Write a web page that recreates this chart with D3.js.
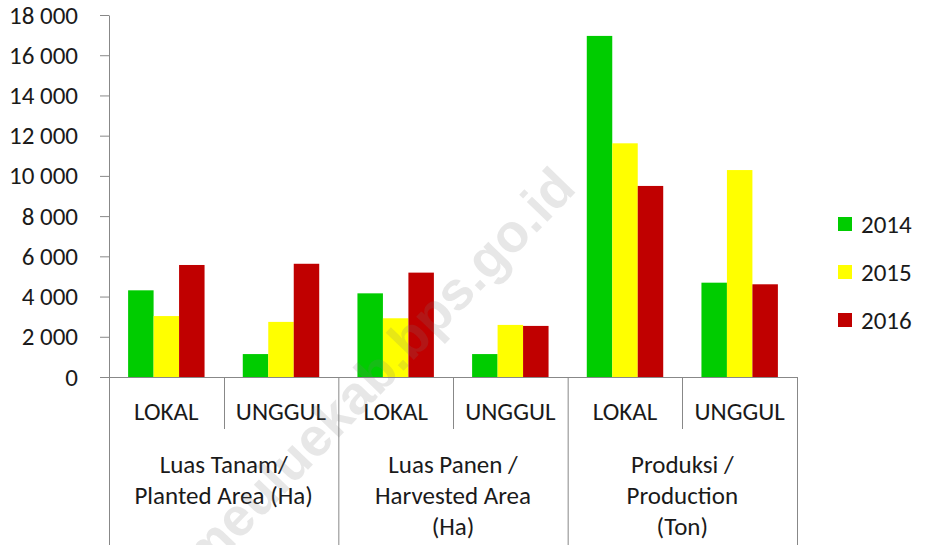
<!DOCTYPE html>
<html>
<head>
<meta charset="utf-8">
<script src="https://cdn.jsdelivr.net/npm/d3@7/dist/d3.min.js"></script>
<style>
  html, body { margin: 0; padding: 0; background: #fff; }
  svg { display: block; }
  text { font-family: Carlito, Calibri, Lato, sans-serif; fill: #1a1a1a; }
</style>
</head>
<body>
<svg id="chart" width="925" height="545"></svg>
<script>
const groupLabels = [
  ["Luas Tanam/", "Planted Area (Ha)"],
  ["Luas Panen /", "Harvested Area", "(Ha)"],
  ["Produksi /", "Production", "(Ton)"]
];
const subCategories = ["LOKAL", "UNGGUL"];
const years = ["2014", "2015", "2016"];
const values2014 = [4310, 1140, 4160, 1140, 16960, 4690];
const values2015 = [3030, 2740, 2920, 2590, 11620, 10290];
const values2016 = [5570, 5630, 5190, 2540, 9500, 4610];
const yTicks = [0, 2000, 4000, 6000, 8000, 10000, 12000, 14000, 16000, 18000];
const colors = ["#00CC00", "#FFFF00", "#C00000"];
const watermark = "simeuluekab.bps.go.id";

const series = [values2014, values2015, values2016];
const cats = [];
groupLabels.forEach((g, gi) => subCategories.forEach((s, si) => cats.push({ g: gi, s: s, i: gi * 2 + si })));

const svg = d3.select("#chart");
const axisColor = "#888888";
const fs = 25;
const x0 = 109, x1 = 797, yBase = 377, yTop = 15;

const x = d3.scaleBand().domain(cats.map(d => d.i)).range([x0, x1]).padding(0);
const xi = d3.scaleBand().domain(years).range([0, x.bandwidth()]).paddingInner(0).paddingOuter(0.75);
const y = d3.scaleLinear().domain([0, 18000]).range([yBase, yTop]);
const gx = d3.scaleBand().domain([0, 1, 2]).range([x0, x1]).padding(0);

// bars
const barG = svg.append("g");
cats.forEach(c => {
  years.forEach((yr, k) => {
    const v = series[k][c.i];
    barG.append("rect")
      .attr("x", x(c.i) + xi(yr))
      .attr("y", y(v))
      .attr("width", xi.bandwidth())
      .attr("height", y(0) - y(v))
      .attr("fill", colors[k]);
  });
});

// y axis
const yAxis = d3.axisLeft(y).tickValues(yTicks).tickSizeInner(9).tickSizeOuter(0).tickPadding(22)
  .tickFormat(d => d3.format(",")(d).replace(/,/g, " "));
const ya = svg.append("g").attr("transform", `translate(${x0},0)`).call(yAxis);
ya.select(".domain").attr("stroke", axisColor);
ya.selectAll(".tick line").attr("stroke", axisColor);
ya.selectAll(".tick text").attr("font-size", fs).attr("fill", "#1a1a1a")
  .style("font-family", "Carlito, Calibri, Lato, sans-serif");

// x axis lines
const ax = svg.append("g").attr("stroke", axisColor).attr("stroke-width", 1);
ax.append("line").attr("x1", x0).attr("x2", x1).attr("y1", yBase + 0.5).attr("y2", yBase + 0.5);
[0, 1, 2].forEach(g => {
  ax.append("line").attr("x1", gx(g) + 0.5).attr("x2", gx(g) + 0.5).attr("y1", yBase).attr("y2", 545);
});
ax.append("line").attr("x1", x1 + 0.5).attr("x2", x1 + 0.5).attr("y1", yBase).attr("y2", 545);
[0, 1, 2].forEach(g => {
  const xm = Math.round(x(g * 2 + 1)) + 0.5;
  ax.append("line").attr("x1", xm).attr("x2", xm).attr("y1", yBase).attr("y2", 429);
});

// sub-category labels
svg.append("g").selectAll("text").data(cats).join("text")
  .attr("x", d => x(d.i) + x.bandwidth() / 2)
  .attr("y", 411)
  .attr("dy", "0.35em")
  .attr("text-anchor", "middle")
  .attr("font-size", fs)
  .text(d => d.s);

// group labels
groupLabels.forEach((lines, gi) => {
  lines.forEach((ln, li) => {
    svg.append("text")
      .attr("x", gx(gi) + gx.bandwidth() / 2)
      .attr("y", 464 + li * 31)
      .attr("dy", "0.35em")
      .attr("text-anchor", "middle")
      .attr("font-size", fs)
      .text(ln);
  });
});

// legend
const lg = svg.append("g");
years.forEach((yr, k) => {
  const cy = 224 + k * 48;
  lg.append("rect").attr("x", 838).attr("y", cy - 7).attr("width", 14).attr("height", 14).attr("fill", colors[k]);
  lg.append("text").attr("x", 861).attr("y", cy).attr("dy", "0.35em").attr("font-size", fs).text(yr);
});

// watermark
svg.append("text")
  .attr("transform", "translate(578,190) rotate(-46)")
  .attr("text-anchor", "end")
  .attr("font-size", 54)
  .attr("font-weight", "bold")
  .style("font-family", "'Liberation Sans', Arial, sans-serif")
  .style("fill", "rgba(120,120,120,0.18)")
  .text(watermark);
</script>
</body>
</html>
